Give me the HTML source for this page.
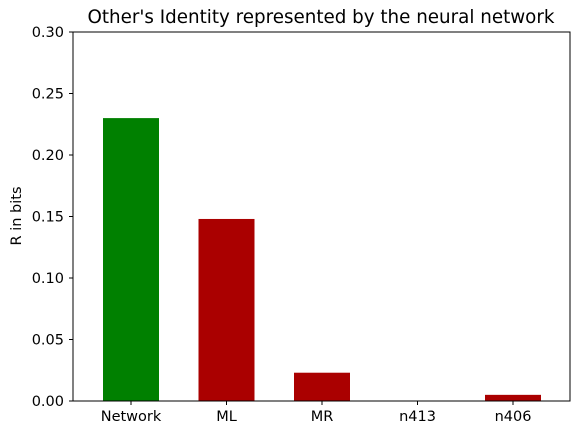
<!DOCTYPE html>
<html><head><meta charset="utf-8"><style>
body{margin:0;background:#fff;}
svg{display:block;font-family:"DejaVu Sans","Liberation Sans",sans-serif;}
</style></head><body>
<svg id="chart" width="583" height="436">
<text x="321" y="23" font-size="18.3" text-anchor="middle" fill="#000">Other's Identity represented by the neural network</text>
<text transform="translate(21,216) rotate(-90)" font-size="14.5" text-anchor="middle">R in bits</text>
<g id="bars"></g><g id="yticks"></g><g id="xticks"></g>
<rect x="73" y="32" width="497" height="369" fill="none" stroke="#000" stroke-width="1"/>
</svg>
<script>
const categories=["Network","ML","MR","n413","n406"];
const values=[0.23,0.148,0.023,0,0.005];
const colors=["#008000","#aa0000","#aa0000","#aa0000","#aa0000"];
const yTicks=[0,0.05,0.1,0.15,0.2,0.25,0.3];
const yTickLabels=["0.00","0.05","0.10","0.15","0.20","0.25","0.30"];
const NS="http://www.w3.org/2000/svg";
const y=v=>401-v/0.3*369;
const x=i=>131+i*95.5;
const bars=document.getElementById('bars'),yt=document.getElementById('yticks'),xt=document.getElementById('xticks');
function mk(tag,attrs,parent){const e=document.createElementNS(NS,tag);for(const k in attrs)e.setAttribute(k,attrs[k]);parent.appendChild(e);return e;}
values.forEach((v,i)=>{
 const r=mk('rect',{x:x(i)-28,y:y(v),width:56,height:401-y(v),fill:colors[i]},bars);
 
 
 const t=mk('line',{x1:x(i),x2:x(i),y1:401,y2:405,stroke:'#000'},xt);
 
 
 const l=mk('text',{x:x(i),y:421,'font-size':14.5,'text-anchor':'middle'},xt);
 l.textContent=categories[i];
 
 
});
yTicks.forEach((v,i)=>{
 const t=mk('line',{x1:69,x2:73,y1:y(v),y2:y(v),stroke:'#000'},yt);
 
 
 const l=mk('text',{x:64,y:y(v)+5,'font-size':14.5,'text-anchor':'end'},yt);
 l.textContent=yTickLabels[i];
 
 
});
</script>
</body></html>
